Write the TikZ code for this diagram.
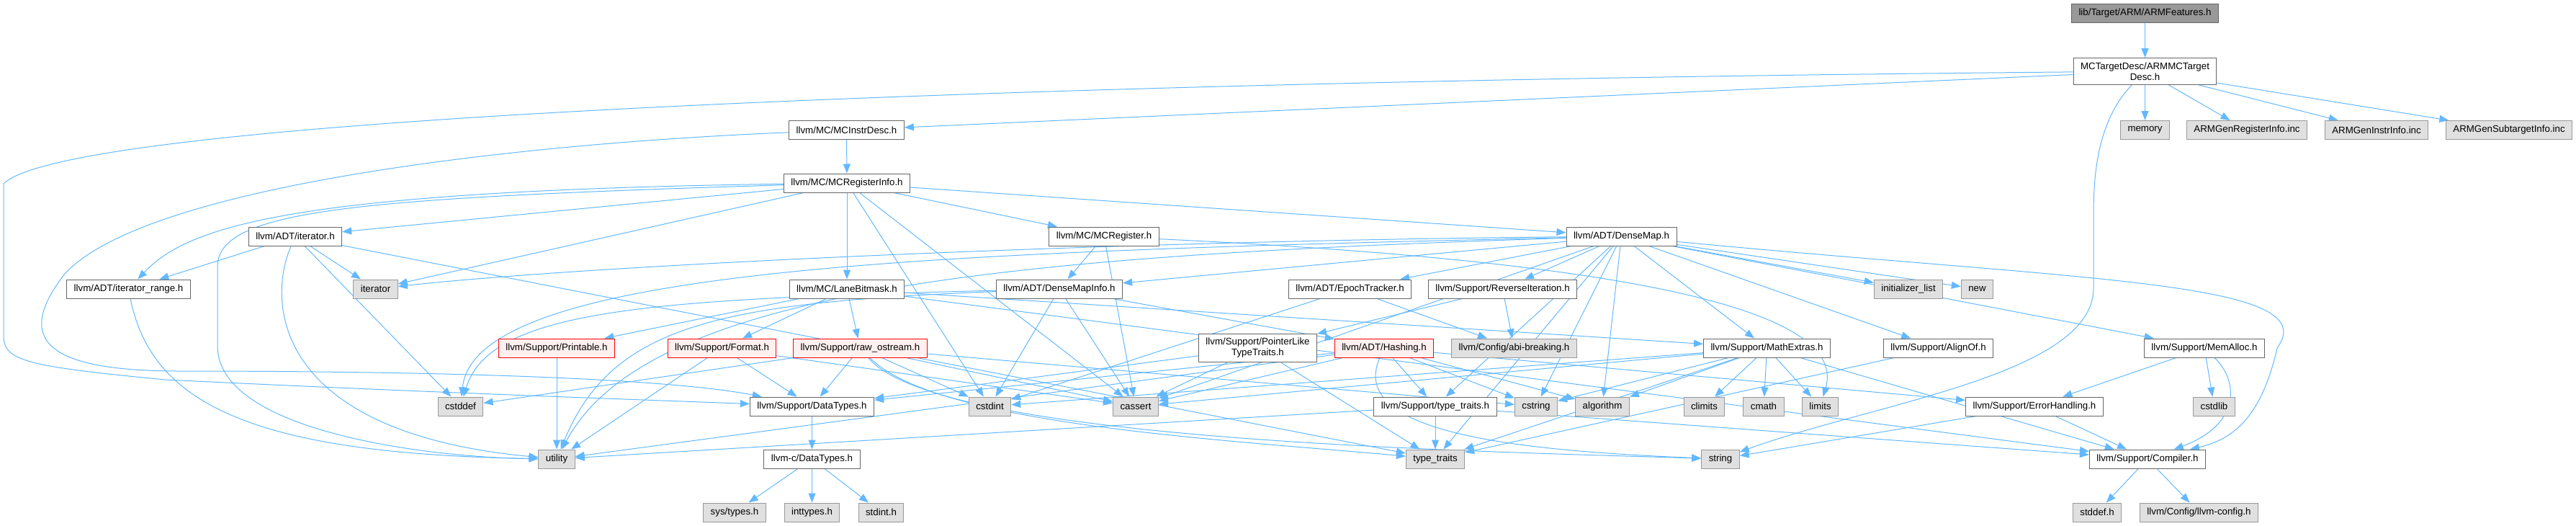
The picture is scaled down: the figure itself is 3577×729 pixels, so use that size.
\documentclass[tikz,border=0pt]{standalone}
\usepackage{fontspec}
\setmainfont{Liberation Sans}
\usetikzlibrary{arrows.meta,backgrounds}

\definecolor{edgeblue}{HTML}{63B8FF}
\definecolor{boxgray}{HTML}{666666}
\definecolor{extfill}{HTML}{E0E0E0}
\definecolor{extdraw}{HTML}{999999}
\definecolor{truncfill}{HTML}{FFF0F0}

\begin{document}
\begin{tikzpicture}[x=1pt, y=-1pt,
    box/.style={draw=boxgray, fill=white, line width=1pt, minimum height=26pt,
      inner xsep=10pt, inner ysep=6pt, align=center,
      font=\fontsize{13.3}{15}\selectfont},
    extbox/.style={box, draw=extdraw, fill=extfill},
    truncbox/.style={box, draw=red, fill=truncfill},
    rootbox/.style={box, fill=extdraw},
    dep/.style={draw=edgeblue, line width=1pt, -{Triangle[length=13pt,width=10pt]}}]
	\useasboundingbox (0,0) rectangle (3577,729);

	% Top of the graph
	\node[rootbox] (root) at (2978.5,18) {lib/Target/ARM/ARMFeatures.h};
	\node[box] (armmc) at (2978.5,99) {MCTargetDesc/ARMMCTarget\\Desc.h};

	% Row 2
	\node[box] (mcinstr) at (1175.5,180.5) {llvm/MC/MCInstrDesc.h};
	\node[extbox] (memory) at (2978.5,180.5) {memory};
	\node[extbox] (genreg) at (3120,180.5) {ARMGenRegisterInfo.inc};
	\node[extbox] (geninstr) at (3300,180.5) {ARMGenInstrInfo.inc};
	\node[extbox] (gensub) at (3484,180.5) {ARMGenSubtargetInfo.inc};

	% Row 3 and 4
	\node[box] (mcreginfo) at (1176,254) {llvm/MC/MCRegisterInfo.h};
	\node[box] (iter) at (410,328) {llvm/ADT/iterator.h};
	\node[box] (mcreg) at (1533,328) {llvm/MC/MCRegister.h};
	\node[box] (densemap) at (2251.5,328) {llvm/ADT/DenseMap.h};

	% Row 5
	\node[box] (itrange) at (178.5,401) {llvm/ADT/iterator\_range.h};
	\node[extbox] (stditer) at (521.5,401) {iterator};
	\node[box] (lanebm) at (1176,401) {llvm/MC/LaneBitmask.h};
	\node[box] (dmapinfo) at (1471,401) {llvm/ADT/DenseMapInfo.h};
	\node[box] (epoch) at (1874.5,401) {llvm/ADT/EpochTracker.h};
	\node[box] (reviter) at (2086.5,401) {llvm/Support/ReverseIteration.h};
	\node[extbox] (initlist) at (2650,401) {initializer\_list};
	\node[extbox] (stdnew) at (2745.5,401) {new};

	% Row 6
	\node[truncbox] (printable) at (773,483) {llvm/Support/Printable.h};
	\node[truncbox] (format) at (1002.5,483) {llvm/Support/Format.h};
	\node[truncbox] (rawos) at (1194.5,483) {llvm/Support/raw\_ostream.h};
	\node[box] (ptrlike) at (1746.5,483) {llvm/Support/PointerLike\\TypeTraits.h};
	\node[truncbox] (hashing) at (1922,483) {llvm/ADT/Hashing.h};
	\node[extbox] (abibrk) at (2102.5,483) {llvm/Config/abi-breaking.h};
	\node[box] (mathext) at (2453.5,483) {llvm/Support/MathExtras.h};
	\node[box] (alignof) at (2691.5,483) {llvm/Support/AlignOf.h};
	\node[box] (memalloc) at (3061,483) {llvm/Support/MemAlloc.h};

	% Row 7
	\node[extbox] (cstddef) at (639.5,564) {cstddef};
	\node[box] (dtypes) at (1127.5,564) {llvm/Support/DataTypes.h};
	\node[extbox] (cstdint) at (1374.5,564) {cstdint};
	\node[extbox] (cassert) at (1577,564) {cassert};
	\node[box] (typetr) at (1993,564) {llvm/Support/type\_traits.h};
	\node[extbox] (cstring) at (2133,564) {cstring};
	\node[extbox] (algo) at (2225,564) {algorithm};
	\node[extbox] (climits) at (2366.5,564) {climits};
	\node[extbox] (cmath) at (2449,564) {cmath};
	\node[extbox] (limits) at (2527.5,564) {limits};
	\node[box] (errh) at (2825,564) {llvm/Support/ErrorHandling.h};
	\node[extbox] (cstdlib) at (3074.5,564) {cstdlib};

	% Row 8
	\node[extbox] (utility) at (773,637) {utility};
	\node[box] (cdtypes) at (1127.5,637) {llvm-c/DataTypes.h};
	\node[extbox] (stdtypetr) at (1993,637) {type\_traits};
	\node[extbox] (string) at (2389,637) {string};
	\node[box] (compiler) at (2982,637) {llvm/Support/Compiler.h};

	% Row 9
	\node[extbox] (systypes) at (1020,711) {sys/types.h};
	\node[extbox] (inttypes) at (1127.5,711) {inttypes.h};
	\node[extbox] (stdint) at (1223.5,711) {stdint.h};
	\node[extbox] (stddef) at (2912,711) {stddef.h};
	\node[extbox] (llvmcfg) at (3053.5,711) {llvm/Config/llvm-config.h};

	\begin{scope}[on background layer]
	% Straight edges
	\draw[dep] (root) -- (armmc);
	\foreach \t in {mcinstr,memory,genreg,geninstr,gensub}
	\draw[dep] (armmc) -- (\t);
	\draw[dep] (mcinstr) -- (mcreginfo);
	\foreach \t in {iter,stditer,lanebm,cstdint,cassert,mcreg,densemap}
	\draw[dep] (mcreginfo) -- (\t);
	\foreach \t in {itrange,stditer,cstddef,stdtypetr}
	\draw[dep] (iter) -- (\t);
	\foreach \t in {dmapinfo,cassert}
	\draw[dep] (mcreg) -- (\t);
	\foreach \t in {dmapinfo,epoch,reviter,mathext,alignof,memalloc,typetr,algo,cassert,cstring,initlist,stdnew,stdtypetr}
	\draw[dep] (densemap) -- (\t);
	\foreach \t in {printable,format,rawos,mathext,compiler}
	\draw[dep] (lanebm) -- (\t);
	\foreach \t in {hashing,cstdint,cassert}
	\draw[dep] (dmapinfo) -- (\t);
	\foreach \t in {abibrk,cstdint}
	\draw[dep] (epoch) -- (\t);
	\foreach \t in {ptrlike,abibrk}
	\draw[dep] (reviter) -- (\t);
	\draw[dep] (printable) -- (utility);
	\foreach \t in {utility,dtypes,cassert}
	\draw[dep] (format) -- (\t);
	\foreach \t in {cstddef,dtypes,cstdint,cassert,cstring}
	\draw[dep] (rawos) -- (\t);
	\foreach \t in {dtypes,cassert,stdtypetr}
	\draw[dep] (ptrlike) -- (\t);
	\foreach \t in {dtypes,cassert,utility,typetr,cstring,algo,errh}
	\draw[dep] (hashing) -- (\t);
	\foreach \t in {compiler,algo,cassert,climits,cmath,cstdint,cstring,limits,stdtypetr}
	\draw[dep] (mathext) -- (\t);
	\draw[dep] (alignof) -- (stdtypetr);
	\foreach \t in {cstdlib,errh}
	\draw[dep] (memalloc) -- (\t);
	\draw[dep] (dtypes) -- (cdtypes);
	\foreach \t in {stdtypetr,utility,compiler}
	\draw[dep] (typetr) -- (\t);
	\foreach \t in {compiler,string}
	\draw[dep] (errh) -- (\t);
	\foreach \t in {systypes,inttypes,stdint}
	\draw[dep] (cdtypes) -- (\t);
	\foreach \t in {stddef,llvmcfg}
	\draw[dep] (compiler) -- (\t);

	% Long curved edges
	\draw[dep] (armmc) .. controls (1500,112) and (100,160) .. (5,255) -- (5,465)
	  .. controls (5,500) and (30,508) .. (230,527) .. controls (600,545) and (900,555) .. (dtypes);
	\draw[dep] (mcinstr) .. controls (700,200) and (200,260) .. (90,380)
	  .. controls (20,470) and (60,515) .. (250,515) .. controls (500,515) and (900,520) .. (dtypes);
	\draw[dep] (mcreginfo) .. controls (400,265) and (260,315) .. (itrange);
	\draw[dep] (mcreginfo) .. controls (500,275) and (302,290) .. (302,370) -- (302,480)
	  .. controls (302,600) and (600,635) .. (utility);
	\draw[dep] (itrange) .. controls (210,560) and (350,630) .. (utility);
	\draw[dep] (iter) .. controls (370,420) and (380,600) .. (utility);
	\draw[dep] (armmc) .. controls (2910,170) and (2907,250) .. (2907,300) -- (2907,400)
	  .. controls (2907,520) and (2600,560) .. (string);
	\draw[dep] (densemap) .. controls (2900,390) and (3230,390) .. (3162,483)
	  .. controls (3140,580) and (3100,610) .. (compiler);
	\draw[dep] (memalloc) .. controls (3110,530) and (3110,590) .. (compiler);
	\draw[dep] (mcreg) .. controls (2200,360) and (2570,420) .. (limits);
	\draw[dep] (densemap) .. controls (1500,335) and (800,370) .. (stditer);
	\draw[dep] (densemap) .. controls (1300,350) and (660,370) .. (cstddef);
	\draw[dep] (densemap) .. controls (1400,355) and (900,400) .. (utility);
	\draw[dep] (dmapinfo) .. controls (900,415) and (680,430) .. (cstddef);
	\draw[dep] (dmapinfo) .. controls (1000,420) and (850,450) .. (utility);
	\draw[dep] (rawos) .. controls (1300,610) and (2000,625) .. (string);
	\draw[dep] (rawos) .. controls (1300,590) and (1700,610) .. (stdtypetr);
	\draw[dep] (hashing) .. controls (1870,600) and (2100,625) .. (string);
	\end{scope}
\end{tikzpicture}
\end{document}
